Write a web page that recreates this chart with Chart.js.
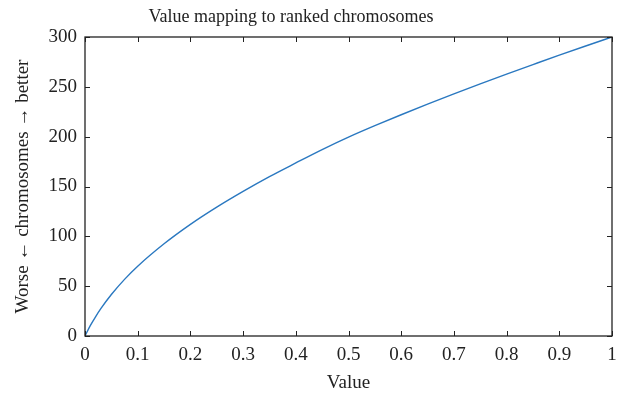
<!DOCTYPE html>
<html>
<head>
<meta charset="utf-8">
<script src="https://cdn.jsdelivr.net/npm/chart.js@4.4.1/dist/chart.umd.min.js"></script>
<style>
  html, body { margin: 0; padding: 0; background: #fff; }
  #wrap { width: 628px; height: 396px; }
</style>
</head>
<body>
<div id="wrap"><canvas id="grafico"></canvas></div>
<script>
// values along the curve
const valores = [0, 0.01, 0.02, 0.03, 0.05, 0.075, 0.1, 0.15, 0.2, 0.25, 0.3, 0.35, 0.4, 0.45, 0.5, 0.55, 0.6, 0.65, 0.7, 0.75, 0.8, 0.85, 0.9, 0.95, 1]
const ranking = [0, 10.4, 19.3, 27.4, 41.6, 56.8, 70, 92.5, 112, 129.3, 145.1, 159.9, 173.6, 187, 199.5, 211, 222, 232.6, 242.9, 252.9, 262.7, 272.3, 281.8, 291, 300]

const xTicks = [0, 0.1, 0.2, 0.3, 0.4, 0.5, 0.6, 0.7, 0.8, 0.9, 1]
const yTicks = [0, 50, 100, 150, 200, 250, 300]

const titulo = 'Value mapping to ranked chromosomes'
const fonte = "'Liberation Serif', 'DejaVu Serif', serif"

const pontos = valores.map((v, i) => ({ x: v, y: ranking[i] }))

// frame with inward tick marks on all four sides, plus the title
const moldura = {
  id: 'moldura',
  afterDraw(chart) {
    const { ctx, chartArea: a, scales } = chart
    ctx.save()
    ctx.strokeStyle = '#222'
    ctx.lineWidth = 1.3
    ctx.strokeRect(a.left, a.top, a.right - a.left, a.bottom - a.top)
    ctx.lineWidth = 1
    const t = 5
    xTicks.forEach(v => {
      const px = Math.round(scales.x.getPixelForValue(v)) + 0.5
      ctx.beginPath()
      ctx.moveTo(px, a.bottom); ctx.lineTo(px, a.bottom - t)
      ctx.moveTo(px, a.top); ctx.lineTo(px, a.top + t)
      ctx.stroke()
    })
    yTicks.forEach(v => {
      const py = Math.round(scales.y.getPixelForValue(v)) + 0.5
      ctx.beginPath()
      ctx.moveTo(a.left, py); ctx.lineTo(a.left + t, py)
      ctx.moveTo(a.right, py); ctx.lineTo(a.right - t, py)
      ctx.stroke()
    })
    ctx.fillStyle = '#222'
    ctx.font = '18px ' + fonte
    ctx.textAlign = 'center'
    ctx.textBaseline = 'middle'
    ctx.fillText(titulo, 291, 17)
    ctx.restore()
  }
}

const grafico = new Chart(document.getElementById('grafico'), {
  type: 'line',
  data: {
    datasets: [{
      data: pontos,
      borderColor: '#2a78c0',
      borderWidth: 1.4,
      pointRadius: 0,
      cubicInterpolationMode: 'monotone',
      fill: false
    }]
  },
  options: {
    responsive: true,
    maintainAspectRatio: false,
    animation: false,
    layout: { padding: { left: 0, right: 16, top: 37, bottom: 0 } },
    plugins: {
      legend: { display: false },
      tooltip: { enabled: false },
      title: { display: false }
    },
    scales: {
      x: {
        type: 'linear',
        min: 0,
        max: 1,
        afterBuildTicks: s => { s.ticks = xTicks.map(v => ({ value: v })) },
        afterFit: s => { s.height = 60 },
        grid: { display: false },
        border: { display: false },
        ticks: {
          color: '#222',
          padding: 0,
          maxRotation: 0,
          font: { family: fonte, size: 19 },
          callback: v => String(v)
        },
        title: {
          display: true,
          text: 'Value',
          color: '#222',
          font: { family: fonte, size: 19 },
          padding: { top: 4, bottom: 2 }
        }
      },
      y: {
        type: 'linear',
        min: 0,
        max: 300,
        afterBuildTicks: s => { s.ticks = yTicks.map(v => ({ value: v })) },
        afterFit: s => { s.width = 85 },
        grid: { display: false },
        border: { display: false },
        ticks: {
          color: '#222',
          padding: 0,
          font: { family: fonte, size: 19 }
        },
        title: {
          display: true,
          text: 'Worse \u2190 chromosomes \u2192 better',
          color: '#222',
          font: { family: fonte, size: 19 },
          padding: { top: 12, bottom: 0 }
        }
      }
    }
  },
  plugins: [moldura]
})
</script>
</body>
</html>
